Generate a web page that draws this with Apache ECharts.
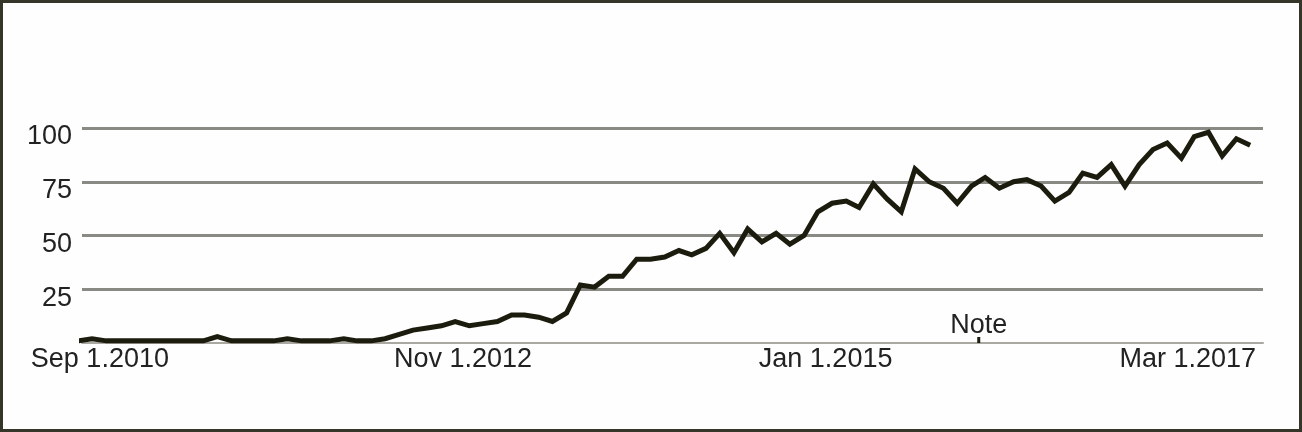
<!DOCTYPE html>
<html>
<head>
<meta charset="utf-8">
<script src="https://cdn.jsdelivr.net/npm/echarts@6/dist/echarts.min.js"></script>
<style>
html, body { margin: 0; padding: 0; background: #ffffff; }
#frame { width: 1302px; height: 432px; box-sizing: border-box; border: 3px solid #35352a; background: #fefefe; }
#chart { width: 1296px; height: 426px; }
</style>
</head>
<body>
<div id="frame"><div id="chart"></div></div>
<script>
// Months of the series (one value per month)
const months = [
  '2010-07','2010-08','2010-09','2010-10','2010-11','2010-12',
  '2011-01','2011-02','2011-03','2011-04','2011-05','2011-06','2011-07','2011-08','2011-09','2011-10','2011-11','2011-12',
  '2012-01','2012-02','2012-03','2012-04','2012-05','2012-06','2012-07','2012-08','2012-09','2012-10','2012-11','2012-12',
  '2013-01','2013-02','2013-03','2013-04','2013-05','2013-06','2013-07','2013-08','2013-09','2013-10','2013-11','2013-12',
  '2014-01','2014-02','2014-03','2014-04','2014-05','2014-06','2014-07','2014-08','2014-09','2014-10','2014-11','2014-12',
  '2015-01','2015-02','2015-03','2015-04','2015-05','2015-06','2015-07','2015-08','2015-09','2015-10','2015-11','2015-12',
  '2016-01','2016-02','2016-03','2016-04','2016-05','2016-06','2016-07','2016-08','2016-09','2016-10','2016-11','2016-12',
  '2017-01','2017-02','2017-03','2017-04','2017-05','2017-06','2017-07'
];
// Interest values (0-100)
const interest = [
  1, 2, 1, 1, 1, 1, 1, 1, 1, 1,
  3, 1, 1, 1, 1, 2, 1, 1, 1, 2,
  1, 1, 2, 4, 6, 7, 8, 10, 8, 9,
  10, 13, 13, 12, 10, 14, 27, 26, 31, 31,
  39, 39, 40, 43, 41, 44, 51, 42, 53, 47,
  51, 46, 50, 61, 65, 66, 63, 74, 67, 61,
  81, 75, 72, 65, 73, 77, 72, 75, 76, 73,
  66, 70, 79, 77, 83, 73, 83, 90, 93, 86,
  96, 98, 87, 95, 92
];
// X axis range, tick dates and their labels
const xRange = ['2010-07-24', '2017-08-12'];
const xTickDates = ['2010-09-01', '2012-11-01', '2015-01-01', '2017-03-01'];
const xTickLabels = ['Sep 1.2010', 'Nov 1.2012', 'Jan 1.2015', 'Mar 1.2017'];
// Y ticks
const yTicks = [0, 25, 50, 75, 100];
// Note annotation
const noteDate = '2015-12-01';
const noteText = 'Note';

function toTime(d) { return Date.UTC(+d.slice(0, 4), +d.slice(5, 7) - 1, +d.slice(8, 10)); }
const seriesData = months.map((m, i) => [toTime(m + '-15'), interest[i]]);
const tickTimes = xTickDates.map(toTime);

const chart = echarts.init(document.getElementById('chart'), null, { renderer: 'canvas' });
const FONT = '"Liberation Sans", Arial, sans-serif';
chart.setOption({
  animation: false,
  backgroundColor: '#fefefe',
  grid: { left: 79, right: 36, top: 125, bottom: 86, containLabel: false },
  xAxis: {
    type: 'value',
    min: toTime(xRange[0]),
    max: toTime(xRange[1]),
    axisLine: { show: true, onZero: false, lineStyle: { color: '#a9a9a2', width: 2 } },
    axisTick: { show: false },
    splitLine: { show: false },
    axisLabel: {
      customValues: tickTimes,
      margin: 3,
      fontSize: 27,
      fontFamily: FONT,
      color: '#222222',
      hideOverlap: false,
      formatter: function (value) {
        let best = 0, bd = Infinity;
        tickTimes.forEach((t, k) => { const d = Math.abs(t - value); if (d < bd) { bd = d; best = k; } });
        return xTickLabels[best];
      }
    }
  },
  yAxis: {
    type: 'value',
    min: yTicks[0],
    max: yTicks[yTicks.length - 1],
    interval: 25,
    axisLine: { show: false },
    axisTick: { show: false },
    axisLabel: {
      margin: 10,
      fontSize: 27,
      fontFamily: FONT,
      color: '#222222',
      showMinLabel: false,
      verticalAlign: 'top',
      lineHeight: 18
    },
    splitLine: {
      show: true,
      showMinLine: false,
      lineStyle: { color: '#8a8a84', width: 3 }
    }
  },
  series: [{
    type: 'line',
    data: seriesData,
    symbol: 'none',
    clip: false,
    lineStyle: { color: '#1c1c0e', width: 5, join: 'miter' },
    z: 5,
    markPoint: {
      symbol: 'rect',
      symbolSize: [3, 6],
      symbolOffset: [0, -3],
      itemStyle: { color: '#1c1c10' },
      label: {
        show: true,
        position: 'top',
        distance: -2,
        formatter: noteText,
        fontSize: 27,
        fontFamily: FONT,
        color: '#222222'
      },
      data: [{ coord: [toTime(noteDate), 0] }]
    }
  }]
});
</script>
</body>
</html>
